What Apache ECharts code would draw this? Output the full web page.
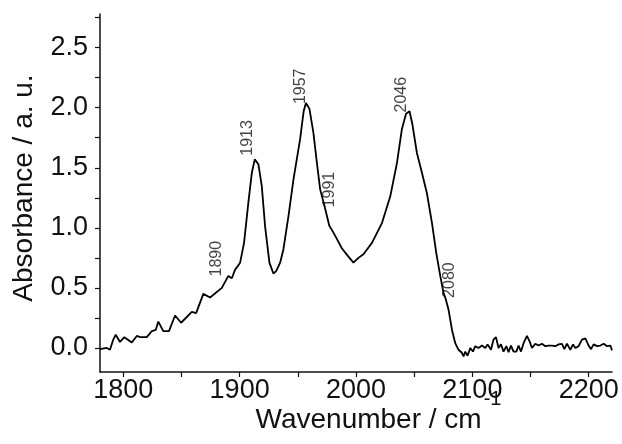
<!DOCTYPE html>
<html>
<head>
<meta charset="utf-8">
<script src="https://cdn.jsdelivr.net/npm/echarts@6/dist/echarts.min.js"></script>
<style>
  html, body { margin: 0; padding: 0; background: #ffffff; }
  #chart { width: 622px; height: 444px; }
</style>
</head>
<body>
<div id="chart"></div>
<script>
// IR spectrum: absorbance versus wavenumber
const wavenumber = [
  1780, 1781.5, 1785.8, 1788.6, 1791.4, 1793.5, 1797.2, 1800.9, 1807.3, 1811.6,
  1814.4, 1820.2, 1824.5, 1827.9, 1830.1, 1834.4, 1839.3, 1844.5, 1849.7, 1858.9,
  1862.6, 1868.8, 1874.6, 1884.7, 1890.3, 1893.3, 1896, 1900.4, 1903.8, 1907.5,
  1910.5, 1913, 1916.1, 1919, 1921.9, 1925.6, 1929, 1931.4, 1934.8, 1937.6,
  1942, 1946.2, 1952, 1955, 1957, 1960, 1963.4, 1966.4, 1969.2, 1973,
  1977, 1980.6, 1984, 1987.8, 1993.5, 1997.8, 2002.1, 2006.4, 2013.7, 2022.3,
  2029.4, 2035.2, 2039.4, 2043, 2046, 2048.5, 2052.3, 2056.6, 2060.9, 2065.3,
  2069, 2072.4, 2075.2, 2076.7, 2079.5, 2082.5, 2085.3, 2088.1, 2091, 2092.4,
  2093.9, 2095.9, 2098.2, 2100.5, 2102.5, 2105.3, 2108.2, 2111.1, 2113.1, 2116,
  2118.2, 2120.3, 2122.5, 2124.6, 2126.8, 2129.2, 2131.1, 2133.2, 2135.4, 2137.8,
  2139.7, 2141.8, 2144, 2146.9, 2149.2, 2151.2, 2154.1, 2156.9, 2159.8, 2162.7,
  2165.5, 2168.4, 2171.3, 2174.1, 2177, 2179, 2181.3, 2184.2, 2186.5, 2188.5,
  2191.3, 2194.2, 2197.1, 2199.9, 2202, 2204.2, 2207.2, 2210, 2212.9, 2215.8,
  2218.6, 2220
];
const absorbance = [
  -0.01, -0.01, 0.0, -0.015, 0.07, 0.11, 0.05, 0.09, 0.045, 0.10,
  0.09, 0.09, 0.14, 0.15, 0.22, 0.14, 0.14, 0.27, 0.21, 0.30,
  0.29, 0.45, 0.42, 0.50, 0.60, 0.58, 0.65, 0.71, 0.875, 1.21,
  1.46, 1.57, 1.53, 1.35, 1.01, 0.71, 0.62, 0.64, 0.71, 0.82,
  1.10, 1.40, 1.74, 1.97, 2.04, 1.99, 1.79, 1.54, 1.32, 1.18,
  1.02, 0.96, 0.90, 0.83, 0.76, 0.71, 0.75, 0.78, 0.875, 1.04,
  1.26, 1.54, 1.82, 1.95, 1.97, 1.86, 1.625, 1.46, 1.29, 1.04,
  0.79, 0.60, 0.46, 0.42, 0.32, 0.15, 0.04, -0.015, -0.04, -0.07,
  -0.03, -0.065, 0.0, -0.03, 0.015, 0.0, 0.02, 0.0, 0.03, -0.015,
  0.07, 0.09, 0.0, 0.03, -0.03, 0.015, -0.035, 0.02, -0.03, -0.03,
  0.02, -0.03, 0.04, 0.10, 0.055, 0.0, 0.035, 0.02, 0.035, 0.015,
  0.02, 0.02, 0.015, 0.03, 0.035, -0.01, 0.035, -0.015, 0.03, 0.0,
  0.015, 0.07, 0.08, 0.02, -0.01, 0.03, 0.015, 0.02, 0.035, 0.015,
  0.02, -0.02
];

// band assignments and where each rotated label starts
const bandLabels = ['1890', '1913', '1957', '1991', '2046', '2080'];
const bandLabelAnchors = [
  [1880.2, 0.595], [1906.8, 1.60], [1952.4, 2.03],
  [1977.0, 1.17], [2038.9, 1.96], [2080.1, 0.417]
];

// axis ticks and labels
const xLabelTicks = [1800, 1900, 2000, 2100, 2200];
const xAllTicks = [1800, 1850, 1900, 1950, 2000, 2050, 2100, 2150, 2200];
const yLabelTicks = [0, 0.5, 1.0, 1.5, 2.0, 2.5];
const yAllTicks = [0, 0.25, 0.5, 0.75, 1.0, 1.25, 1.5, 1.75, 2.0, 2.25, 2.5, 2.75];

const FONT = '"Liberation Sans", Arial, Helvetica, sans-serif';
const INK = '#111111';

const chart = echarts.init(document.getElementById('chart'), null, { renderer: 'canvas' });

// width of the main x title to place the superscript after it
const measure = document.createElement('canvas').getContext('2d');
measure.font = '28px ' + FONT;
const xTitleMain = 'Wavenumber / cm';
const xTitleSup = '-1';
const mainW = measure.measureText(xTitleMain).width;
measure.font = '20px ' + FONT;
const supW = measure.measureText(xTitleSup).width;
const xTitleCenter = 378;
const xTitleLeft = xTitleCenter - (mainW + supW + 1) / 2;

chart.setOption({
  animation: false,
  backgroundColor: '#ffffff',
  grid: { left: 100, right: 10, top: 14, bottom: 72, containLabel: false },
  xAxis: {
    type: 'value',
    min: 1780,
    max: 2220,
    axisLine: { show: true, onZero: false, lineStyle: { color: INK, width: 1.5 } },
    axisTick: { show: true, inside: false, length: 5, customValues: xAllTicks, lineStyle: { color: INK, width: 1.2 } },
    axisLabel: {
      show: true, customValues: xLabelTicks, margin: 5,
      color: INK, fontSize: 27, fontFamily: FONT,
      formatter: v => String(v)
    },
    splitLine: { show: false }
  },
  yAxis: {
    type: 'value',
    min: -0.2,
    max: 2.78,
    name: 'Absorbance / a. u.',
    nameLocation: 'middle',
    nameRotate: 90,
    nameGap: 62,
    nameTextStyle: { color: INK, fontSize: 28, fontFamily: FONT, padding: [0, 0, 0, 10] },
    axisLine: { show: true, onZero: false, lineStyle: { color: INK, width: 1.5 } },
    axisTick: { show: true, inside: false, length: 5, customValues: yAllTicks, lineStyle: { color: INK, width: 1.2 } },
    axisLabel: {
      show: true, customValues: yLabelTicks, margin: 12,
      color: INK, fontSize: 27, fontFamily: FONT,
      formatter: v => v.toFixed(1)
    },
    splitLine: { show: false }
  },
  graphic: [
    {
      type: 'text', x: xTitleLeft, y: 420, silent: true,
      style: { text: xTitleMain, fill: INK, font: '28px ' + FONT, verticalAlign: 'middle', align: 'left' }
    },
    {
      type: 'text', x: xTitleLeft + mainW + 2, y: 399, silent: true,
      style: { text: xTitleSup, fill: INK, font: '20px ' + FONT, verticalAlign: 'middle', align: 'left' }
    }
  ],
  series: [
    {
      type: 'line',
      data: wavenumber.map((w, i) => [w, absorbance[i]]),
      showSymbol: false,
      symbol: 'none',
      lineStyle: { color: '#000000', width: 1.8 },
      z: 3
    },
    {
      type: 'scatter',
      data: bandLabelAnchors.map((p, i) => ({ value: p, name: bandLabels[i] })),
      symbolSize: 1,
      itemStyle: { color: 'rgba(0,0,0,0)' },
      label: {
        show: true,
        position: 'inside',
        rotate: 90,
        align: 'left',
        verticalAlign: 'middle',
        formatter: p => p.name,
        color: INK,
        fontSize: 16,
        fontFamily: FONT
      },
      z: 4
    }
  ]
});
</script>
</body>
</html>
